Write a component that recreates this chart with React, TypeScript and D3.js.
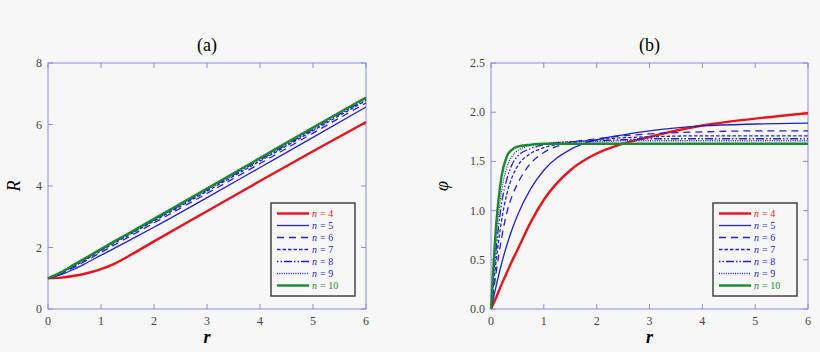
import React from 'react';
import * as d3 from 'd3';

// n values of the curves
const nValues = [4, 5, 6, 7, 8, 9, 10];

// panel (a): R(r)
const rGridA = [0, 0.25, 0.5, 0.75, 1, 1.25, 1.5, 2, 3, 4, 5, 6];
const R_n4 = [1.0, 1.02, 1.08, 1.17, 1.3, 1.47, 1.7, 2.2, 3.18, 4.16, 5.13, 6.08];
const R_n5 = [1.0, 1.12, 1.3, 1.52, 1.75, 1.97, 2.2, 2.66, 3.62, 4.6, 5.58, 6.57];
const R_n6 = [1.0, 1.15, 1.36, 1.6, 1.84, 2.08, 2.32, 2.8, 3.76, 4.73, 5.72, 6.7];
const R_n7 = [1.0, 1.17, 1.4, 1.64, 1.89, 2.14, 2.38, 2.86, 3.83, 4.81, 5.8, 6.78];
const R_n8 = [1.0, 1.18, 1.42, 1.67, 1.92, 2.17, 2.41, 2.89, 3.87, 4.85, 5.84, 6.82];
const R_n9 = [1.0, 1.19, 1.44, 1.69, 1.94, 2.19, 2.43, 2.91, 3.89, 4.88, 5.87, 6.85];
const R_n10 = [1.0, 1.2, 1.45, 1.7, 1.95, 2.2, 2.44, 2.93, 3.92, 4.91, 5.9, 6.88];

// panel (b): phi(r)
const rGridB = [0, 0.1, 0.2, 0.3, 0.4, 0.5, 0.75, 1, 1.5, 2, 2.5, 3, 4, 5, 6];
const phi_n4 = [0, 0.12, 0.25, 0.37, 0.49, 0.6, 0.88, 1.11, 1.41, 1.58, 1.68, 1.75, 1.865, 1.935, 1.99];
const phi_n5 = [0, 0.24, 0.46, 0.65, 0.81, 0.95, 1.22, 1.41, 1.62, 1.72, 1.77, 1.81, 1.86, 1.88, 1.89];
const phi_n6 = [0, 0.38, 0.72, 0.98, 1.15, 1.27, 1.48, 1.59, 1.69, 1.73, 1.76, 1.78, 1.8, 1.81, 1.81];
const phi_n7 = [0, 0.5, 0.9, 1.17, 1.34, 1.45, 1.58, 1.64, 1.69, 1.72, 1.74, 1.75, 1.76, 1.76, 1.76];
const phi_n8 = [0, 0.62, 1.07, 1.32, 1.47, 1.55, 1.63, 1.67, 1.7, 1.71, 1.72, 1.73, 1.73, 1.73, 1.73];
const phi_n9 = [0, 0.74, 1.2, 1.44, 1.55, 1.61, 1.66, 1.68, 1.7, 1.7, 1.71, 1.71, 1.71, 1.71, 1.71];
const phi_n10 = [0, 0.87, 1.35, 1.55, 1.62, 1.65, 1.67, 1.68, 1.68, 1.68, 1.68, 1.68, 1.68, 1.68, 1.68];

const xTicks = [0, 1, 2, 3, 4, 5, 6];
const yTicksA = [0, 2, 4, 6, 8];
const yTicksB = [0, 0.5, 1, 1.5, 2, 2.5];

const RED = '#e8141c';
const BLUE = '#2222c8';
const GREEN = '#1a8a2e';
const FRAME = '#8c8ce0';

// line style per n
const styles = [
  { color: RED, width: 2.4, dash: '' },
  { color: BLUE, width: 1.3, dash: '' },
  { color: BLUE, width: 1.3, dash: '7,5' },
  { color: BLUE, width: 1.3, dash: '3.5,2' },
  { color: BLUE, width: 1.3, dash: '1.5,2,1.5,2,8,2' },
  { color: BLUE, width: 1.3, dash: '1,1.3' },
  { color: GREEN, width: 2.4, dash: '' },
];

const seriesA = [R_n4, R_n5, R_n6, R_n7, R_n8, R_n9, R_n10];
const seriesB = [phi_n4, phi_n5, phi_n6, phi_n7, phi_n8, phi_n9, phi_n10];

const serif = 'Liberation Serif, Times New Roman, Tinos, DejaVu Serif, serif';

type PanelProps = {
  left: number; right: number; top: number; bottom: number;
  grid: number[]; series: number[][]; yMax: number; yTicks: number[];
  yFmt: (v: number) => string; title: string; yLabel: string; yLabelX: number;
};

const Panel = ({ left, right, top, bottom, grid, series, yMax, yTicks, yFmt, title, yLabel, yLabelX }: PanelProps) => {
  const x = d3.scaleLinear().domain([0, 6]).range([left, right]);
  const y = d3.scaleLinear().domain([0, yMax]).range([bottom, top]);
  const line = d3.line<number>()
    .x((_, i) => x(grid[i]))
    .y(d => y(d))
    .curve(d3.curveMonotoneX);

  const legTop = 203, legLeft = right - 95;
  const tick = 5;

  return (
    <g style={{ fontFamily: serif }}>
      <text x={(left + right) / 2} y={51} textAnchor="middle" fontSize={18}>{title}</text>
      <rect x={left} y={top} width={right - left} height={bottom - top} fill="none" stroke={FRAME} strokeWidth={1} />
      {xTicks.map(t => (
        <g key={'x' + t}>
          <line x1={x(t)} x2={x(t)} y1={bottom} y2={bottom - tick} stroke={FRAME} />
          <line x1={x(t)} x2={x(t)} y1={top} y2={top + tick} stroke={FRAME} />
          <text x={x(t)} y={325} textAnchor="middle" fontSize={12} fill="#444">{t}</text>
        </g>
      ))}
      {yTicks.map(t => (
        <g key={'y' + t}>
          <line x1={left} x2={left + tick} y1={y(t)} y2={y(t)} stroke={FRAME} />
          <line x1={right} x2={right - tick} y1={y(t)} y2={y(t)} stroke={FRAME} />
          <text x={left - 6} y={y(t) + 4} textAnchor="end" fontSize={12} fill="#444">{yFmt(t)}</text>
        </g>
      ))}
      <text x={(left + right) / 2} y={343} textAnchor="middle" fontSize={18} fontStyle="italic" fontWeight="bold">r</text>
      <text x={yLabelX} y={(top + bottom) / 2} textAnchor="middle" fontSize={18} fontStyle="italic"
        transform={`rotate(-90 ${yLabelX} ${(top + bottom) / 2})`}>{yLabel}</text>
      {series.map((s, i) => (
        <path key={'s' + i} d={line(s) ?? ''} fill="none" stroke={styles[i].color}
          strokeWidth={styles[i].width} strokeDasharray={styles[i].dash || undefined} />
      ))}
      <rect x={legLeft} y={legTop} width={84} height={93} fill="#f7f7f7" stroke="#444" strokeWidth={1.5} />
      {nValues.map((n, i) => {
        const yy = legTop + 10.5 + i * 12;
        return (
          <g key={'l' + n}>
            <line x1={legLeft + 6} x2={legLeft + 38} y1={yy} y2={yy} stroke={styles[i].color}
              strokeWidth={styles[i].width} strokeDasharray={styles[i].dash || undefined} />
            <text x={legLeft + 41} y={yy + 3.5} fontSize={10} fontStyle="italic" fill={styles[i].color}>n</text>
            <text x={legLeft + 49} y={yy + 3.5} fontSize={10} fill={styles[i].color}>{`= ${n}`}</text>
          </g>
        );
      })}
    </g>
  );
};

const App = () => (
  <svg width={820} height={352} style={{ position: 'absolute', left: 0, top: 0, background: '#f7f7f7' }}>
    <Panel left={48} right={366} top={63} bottom={309} grid={rGridA} series={seriesA} yMax={8}
      yTicks={yTicksA} yFmt={v => String(v)} title="(a)" yLabel="R" yLabelX={20} />
    <Panel left={491} right={808} top={63} bottom={309} grid={rGridB} series={seriesB} yMax={2.5}
      yTicks={yTicksB} yFmt={v => v.toFixed(1)} title="(b)" yLabel="φ" yLabelX={448} />
  </svg>
);

export default App;
